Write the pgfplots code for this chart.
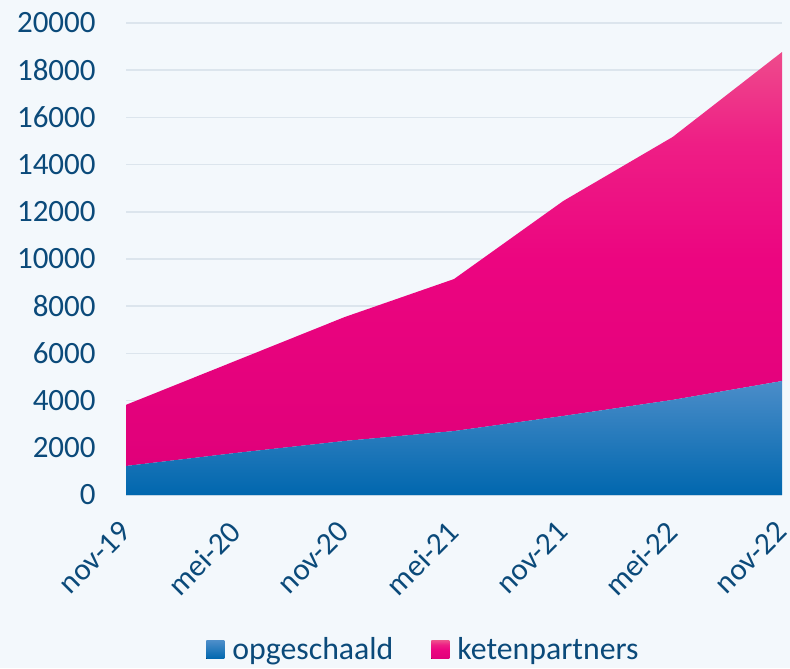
\documentclass[border=0pt]{standalone}
\usepackage{pgfplots}
\pgfplotsset{compat=1.18}
\usepackage{fontspec}
\setmainfont{Carlito}
\definecolor{bg}{HTML}{F3F8FC}
\definecolor{txt}{HTML}{0B4A7A}
\definecolor{gridc}{HTML}{DCE5ED}
\definecolor{blueT}{HTML}{4B8DC9}
\definecolor{blueB}{HTML}{0067AE}
\definecolor{pinkT}{HTML}{EE4B8C}
\definecolor{pinkQ}{HTML}{EE1E85}
\definecolor{pinkM}{HTML}{EC0580}
\definecolor{pinkB}{HTML}{E0007A}
\pgfdeclareverticalshading{pinkgrad}{100bp}{color(0bp)=(pinkB); color(25bp)=(pinkB); color(50bp)=(pinkM); color(64bp)=(pinkQ); color(75bp)=(pinkT); color(100bp)=(pinkT)}
\pgfplotstableread{
x opg ket
0 1230 2590
1 1780 3900
2 2290 5250
3 2710 6440
4 3350 9110
5 4030 11140
6 4830 13940
}\datatable
\begin{document}
\begin{tikzpicture}
\fill[bg] (-63pt,-86.5pt) rectangle (332pt,247.5pt);
\begin{axis}[
  at={(0,0)}, anchor=origin,
  scale only axis, width=328pt, height=236pt,
  xmin=0, xmax=6, ymin=0, ymax=20000,
  stack plots=y,
  xtick={0,...,6},
  xticklabels={nov-19,mei-20,nov-20,mei-21,nov-21,mei-22,nov-22},
  ytick={0,2000,...,20000},
  scaled y ticks=false,
  /pgf/number format/assume math mode=true,
  yticklabel={\pgfmathprintnumber[fixed,1000 sep={}]{\tick}},
  axis x line*=bottom,
  axis y line*=left,
  y axis line style={draw=none},
  x axis line style={gridc, line width=0.75pt, -},
  major tick length=0pt,
  ymajorgrids,
  grid style={gridc, line width=0.75pt},
  tick label style={font=\fontsize{15.5}{18}\selectfont, text=txt},
  yticklabel style={anchor=east, inner sep=0pt, xshift=-15pt},
  xticklabel style={anchor=north east, inner sep=0pt, xshift=-4pt, yshift=-12pt, rotate=45},
  legend style={at={(rel axis cs:0.458,-0.328)}, anchor=center, draw=none, fill=none,
    legend columns=2, font=\fontsize{15.9}{18}\selectfont, text=txt,
    /tikz/every even column/.append style={column sep=15pt},
    nodes={inner xsep=4pt}},
  legend image code/.code={\fill[#1] (0pt,-4.5pt) rectangle (9pt,4.5pt);},
  clip=false,
]
\addplot[draw=none, top color=blueT, bottom color=blueB] table[x=x,y=opg]{\datatable} \closedcycle;
\addlegendentry{opgeschaald}
\addplot[draw=none, shading=pinkgrad] table[x=x,y=ket]{\datatable} \closedcycle;
\addlegendentry{ketenpartners}
\end{axis}
\pgfresetboundingbox
\useasboundingbox (-63pt,-86.5pt) rectangle (332pt,247.5pt);
\end{tikzpicture}
\end{document}
